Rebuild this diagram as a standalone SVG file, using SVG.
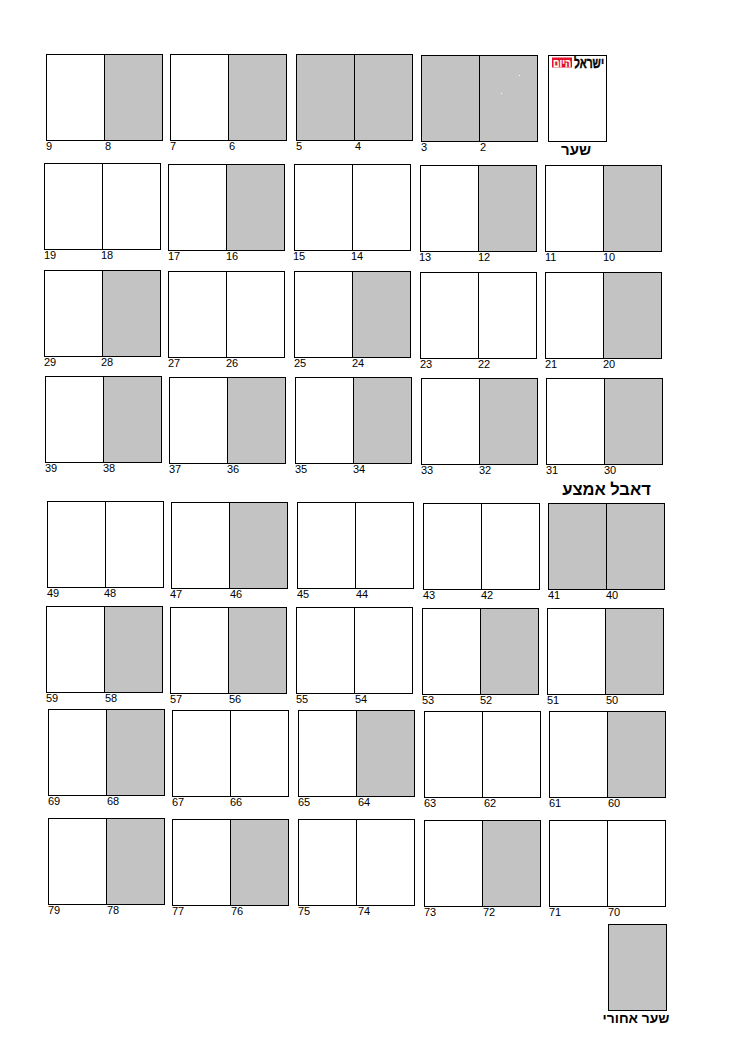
<svg xmlns="http://www.w3.org/2000/svg" width="752" height="1058" viewBox="0 0 752 1058">
<style>
text{font-family:"Liberation Sans",Arial,sans-serif;fill:#000}
.w,.g{stroke:#000;stroke-width:1}
.w{fill:#fff}
.g{fill:#c3c3c3}
.n{font-size:11px}
.t{font-weight:700;font-size:15px;text-anchor:middle}
</style>
<rect width="752" height="1058" fill="#fff"/>
<defs>
<g id="WW"><rect class="w" width="58" height="86"/><rect class="w" x="58" width="58" height="86"/></g>
<g id="WG"><rect class="w" width="58" height="86"/><rect class="g" x="58" width="58" height="86"/></g>
<g id="GG"><rect class="g" width="58" height="86"/><rect class="g" x="58" width="58" height="86"/></g>
</defs>
<g id="s9"><use href="#WG" x="46.500" y="54.500"/><text class="n" x="46" y="150">9</text><text class="n" x="105" y="150">8</text></g>
<g id="s7"><use href="#WG" x="170.500" y="54.500"/><text class="n" x="170" y="150">7</text><text class="n" x="229" y="150">6</text></g>
<g id="s5"><use href="#GG" x="296.500" y="54.500"/><text class="n" x="296" y="150">5</text><text class="n" x="355" y="150">4</text></g>
<g id="s3"><use href="#GG" x="421.500" y="55.500"/><rect x="519" y="75" width="1" height="1" fill="#fff"/><rect x="501" y="93" width="1" height="1" fill="#fff"/><text class="n" x="421" y="151">3</text><text class="n" x="480" y="151">2</text></g>
<g id="cover"><rect class="w" x="548.500" y="55.500" width="58" height="86"/><rect x="552" y="57.500" width="20" height="10" fill="#e2102a"/><text x="562" y="66.500" font-size="11" font-weight="700" text-anchor="middle" textLength="18" lengthAdjust="spacingAndGlyphs" style="fill:#fff;stroke:#fff;stroke-width:.25">היום</text><text x="589" y="67.500" font-size="15" font-weight="700" text-anchor="middle" textLength="30" lengthAdjust="spacingAndGlyphs" style="stroke:#000;stroke-width:.45">ישראל</text><text class="t" x="576" y="155">שער</text></g>
<g id="s19"><use href="#WW" x="44.500" y="163.500"/><text class="n" x="44" y="259">19</text><text class="n" x="101" y="259">18</text></g>
<g id="s17"><use href="#WG" x="168.500" y="164.500"/><text class="n" x="168" y="260">17</text><text class="n" x="226" y="260">16</text></g>
<g id="s15"><use href="#WW" x="294.500" y="164.500"/><text class="n" x="293" y="260">15</text><text class="n" x="351" y="260">14</text></g>
<g id="s13"><use href="#WG" x="420.500" y="165.500"/><text class="n" x="419" y="261">13</text><text class="n" x="478" y="261">12</text></g>
<g id="s11"><use href="#WG" x="545.500" y="165.500"/><text class="n" x="545" y="261">11</text><text class="n" x="603" y="261">10</text></g>
<g id="s29"><use href="#WG" x="44.500" y="270.500"/><text class="n" x="44" y="366">29</text><text class="n" x="101" y="366">28</text></g>
<g id="s27"><use href="#WW" x="168.500" y="271.500"/><text class="n" x="168" y="367">27</text><text class="n" x="226" y="367">26</text></g>
<g id="s25"><use href="#WG" x="294.500" y="271.500"/><text class="n" x="294" y="367">25</text><text class="n" x="352" y="367">24</text></g>
<g id="s23"><use href="#WW" x="420.500" y="272.500"/><text class="n" x="420" y="368">23</text><text class="n" x="478" y="368">22</text></g>
<g id="s21"><use href="#WG" x="545.500" y="272.500"/><text class="n" x="545" y="368">21</text><text class="n" x="603" y="368">20</text></g>
<g id="s39"><use href="#WG" x="45.500" y="376.500"/><text class="n" x="45" y="472">39</text><text class="n" x="103" y="472">38</text></g>
<g id="s37"><use href="#WG" x="169.500" y="377.500"/><text class="n" x="169" y="473">37</text><text class="n" x="227" y="473">36</text></g>
<g id="s35"><use href="#WG" x="295.500" y="377.500"/><text class="n" x="295" y="473">35</text><text class="n" x="353" y="473">34</text></g>
<g id="s33"><use href="#WG" x="421.500" y="378.500"/><text class="n" x="421" y="474">33</text><text class="n" x="479" y="474">32</text></g>
<g id="s31"><use href="#WG" x="546.500" y="378.500"/><text class="n" x="546" y="474">31</text><text class="n" x="604" y="474">30</text></g>
<g id="middle-label"><text class="t" x="606.500" y="495" style="font-size:16.500px">דאבל אמצע</text></g>
<g id="s49"><use href="#WW" x="47.500" y="501.500"/><text class="n" x="47" y="597">49</text><text class="n" x="104" y="597">48</text></g>
<g id="s47"><use href="#WG" x="171.500" y="502.500"/><text class="n" x="170" y="598">47</text><text class="n" x="230" y="598">46</text></g>
<g id="s45"><use href="#WW" x="297.500" y="502.500"/><text class="n" x="297" y="598">45</text><text class="n" x="356" y="598">44</text></g>
<g id="s43"><use href="#WW" x="423.500" y="503.500"/><text class="n" x="423" y="599">43</text><text class="n" x="481" y="599">42</text></g>
<g id="s41"><use href="#GG" x="548.500" y="503.500"/><text class="n" x="548" y="599">41</text><text class="n" x="606" y="599">40</text></g>
<g id="s59"><use href="#WG" x="46.500" y="606.500"/><text class="n" x="46" y="702">59</text><text class="n" x="105" y="702">58</text></g>
<g id="s57"><use href="#WG" x="170.500" y="607.500"/><text class="n" x="170" y="703">57</text><text class="n" x="229" y="703">56</text></g>
<g id="s55"><use href="#WW" x="296.500" y="607.500"/><text class="n" x="296" y="703">55</text><text class="n" x="355" y="703">54</text></g>
<g id="s53"><use href="#WG" x="422.500" y="608.500"/><text class="n" x="422" y="704">53</text><text class="n" x="480" y="704">52</text></g>
<g id="s51"><use href="#WG" x="547.500" y="608.500"/><text class="n" x="547" y="704">51</text><text class="n" x="606" y="704">50</text></g>
<g id="s69"><use href="#WG" x="48.500" y="709.500"/><text class="n" x="48" y="805">69</text><text class="n" x="107" y="805">68</text></g>
<g id="s67"><use href="#WW" x="172.500" y="710.500"/><text class="n" x="172" y="806">67</text><text class="n" x="230" y="806">66</text></g>
<g id="s65"><use href="#WG" x="298.500" y="710.500"/><text class="n" x="298" y="806">65</text><text class="n" x="358" y="806">64</text></g>
<g id="s63"><use href="#WW" x="424.500" y="711.500"/><text class="n" x="424" y="807">63</text><text class="n" x="484" y="807">62</text></g>
<g id="s61"><use href="#WG" x="549.500" y="711.500"/><text class="n" x="549" y="807">61</text><text class="n" x="608" y="807">60</text></g>
<g id="s79"><use href="#WG" x="48.500" y="818.500"/><text class="n" x="48" y="914">79</text><text class="n" x="107" y="914">78</text></g>
<g id="s77"><use href="#WG" x="172.500" y="819.500"/><text class="n" x="172" y="915">77</text><text class="n" x="231" y="915">76</text></g>
<g id="s75"><use href="#WW" x="298.500" y="819.500"/><text class="n" x="298" y="915">75</text><text class="n" x="358" y="915">74</text></g>
<g id="s73"><use href="#WG" x="424.500" y="820.500"/><text class="n" x="424" y="916">73</text><text class="n" x="483" y="916">72</text></g>
<g id="s71"><use href="#WW" x="549.500" y="820.500"/><text class="n" x="549" y="916">71</text><text class="n" x="608" y="916">70</text></g>
<g id="back-cover"><rect class="g" x="608.500" y="924.500" width="58" height="86"/><text class="t" x="636" y="1023" style="font-size:13.800px">שער אחורי</text></g>
</svg>
